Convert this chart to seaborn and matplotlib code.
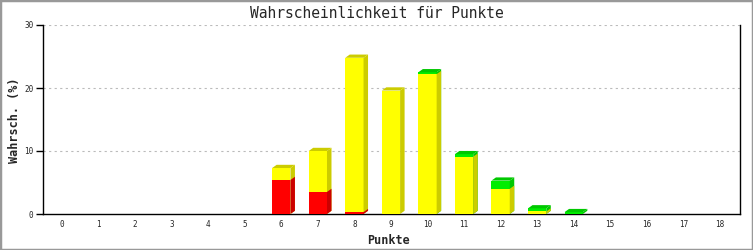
import numpy as np
import pandas as pd
import matplotlib
matplotlib.use("Agg")
import matplotlib.pyplot as plt
from matplotlib.patches import Polygon, Rectangle
import seaborn as sns

# ---- data ----
punkte = [str(i) for i in range(19)]
rot = [0, 0, 0, 0, 0, 0, 5.4, 3.5, 0.3, 0, 0, 0, 0, 0, 0, 0, 0, 0, 0]
gelb = [0, 0, 0, 0, 0, 0, 1.9, 6.5, 24.5, 19.6, 22.2, 9.1, 4.0, 0.4, 0, 0, 0, 0, 0]
gruen = [0, 0, 0, 0, 0, 0, 0, 0, 0, 0, 0.3, 0.4, 1.3, 0.5, 0.3, 0, 0, 0, 0]
title = "Wahrscheinlichkeit für Punkte"
xlabel = "Punkte"
ylabel = "Wahrsch. (%)"
yticks = [0, 10, 20, 30]

front = {"rot": "#FF0000", "gelb": "#FFFF00", "gruen": "#00EE00"}
dark = {"rot": "#CC0000", "gelb": "#CCCC00", "gruen": "#00C800"}

df = pd.DataFrame({"Punkte": punkte, "rot": rot, "gelb": gelb, "gruen": gruen})
df["cum_rot"] = df["rot"]
df["cum_gelb"] = df["rot"] + df["gelb"]
df["cum_gruen"] = df["cum_gelb"] + df["gruen"]

sns.set_theme(style="white")
mono = ["DejaVu Sans Mono"]

fig = plt.figure(figsize=(7.53, 2.5), dpi=100)
fig.patch.set_facecolor("white")
ax = fig.add_axes([43 / 753, 1 - 214 / 250, (740 - 43) / 753, (214 - 25) / 250])

layers = ["gruen", "gelb", "rot"]
containers = {}
for i, name in enumerate(layers):
    sns.barplot(data=df, x="Punkte", y="cum_" + name, color=front[name],
                width=0.5, saturation=1, ax=ax, linewidth=0, zorder=3 + i * 2)
    containers[name] = ax.containers[-1]

# 3D depth in data units
ppx = (740 - 43) / 19.07  # pixels per category
ppy = (214 - 25) / 30.0   # pixels per unit
dx = 4.5 / ppx
dy = 3.2 / ppy

for i in range(len(punkte)):
    top_name = None
    for name in ["rot", "gelb", "gruen"]:
        if df[name][i] > 0:
            top_name = name
    for k, name in enumerate(layers):
        p = containers[name].patches[i]
        h = p.get_height()
        if df[name][i] <= 0:
            continue
        xr = p.get_x() + p.get_width()
        y1 = h
        side = Polygon([(xr, 0), (xr + dx, dy), (xr + dx, y1 + dy), (xr, y1)],
                       closed=True, facecolor=dark[name], edgecolor="none",
                       zorder=3 + k * 2)
        ax.add_patch(side)
        if name == top_name:
            xl = p.get_x()
            top = Polygon([(xl, y1), (xl + dx, y1 + dy), (xr + dx, y1 + dy), (xr, y1)],
                          closed=True, facecolor=dark[name], edgecolor="none",
                          zorder=9)
            ax.add_patch(top)

ax.set_xlim(-0.52, 18.55)
ax.set_ylim(0, 30)
ax.set_yticks(yticks)
ax.set_yticklabels([str(t) for t in yticks], family=mono, fontsize=5.5)
ax.set_xticks(range(len(punkte)))
ax.set_xticklabels(punkte, family=mono, fontsize=5.5)
ax.tick_params(axis="y", length=5, width=1, color="black", pad=2, left=True)
ax.tick_params(axis="x", length=0, pad=4)
for y in yticks[1:]:
    ax.axhline(y, color="#BBBBBB", linestyle=(0, (2, 3)), linewidth=0.8, zorder=1)

for s in ["left", "right", "bottom"]:
    ax.spines[s].set_visible(True)
    ax.spines[s].set_color("black")
    ax.spines[s].set_linewidth(1.0)
ax.spines["top"].set_visible(False)

ax.set_xlabel(xlabel, family=mono, fontsize=8.5, fontweight="bold")
ax.set_ylabel(ylabel, family=mono, fontsize=8.5, fontweight="bold")
ax.xaxis.set_label_coords(0.5 + (389 - 391.5) / 697, (214 - 240) / 189)
ax.yaxis.set_label_coords((14 - 43) / 697, 0.5 + (214 - 120 - 94.5) / 189)
ax.xaxis.label.set_va("center")
ax.yaxis.label.set_va("center")
fig.text(0.5, 1 - 13 / 250, title, family=mono, fontsize=10.5,
         ha="center", va="center")

fig.patches.append(Rectangle((0, 0), 1, 1, transform=fig.transFigure,
                             fill=False, edgecolor="#999999", linewidth=2.5))

fig.savefig("out.png", dpi=100)
